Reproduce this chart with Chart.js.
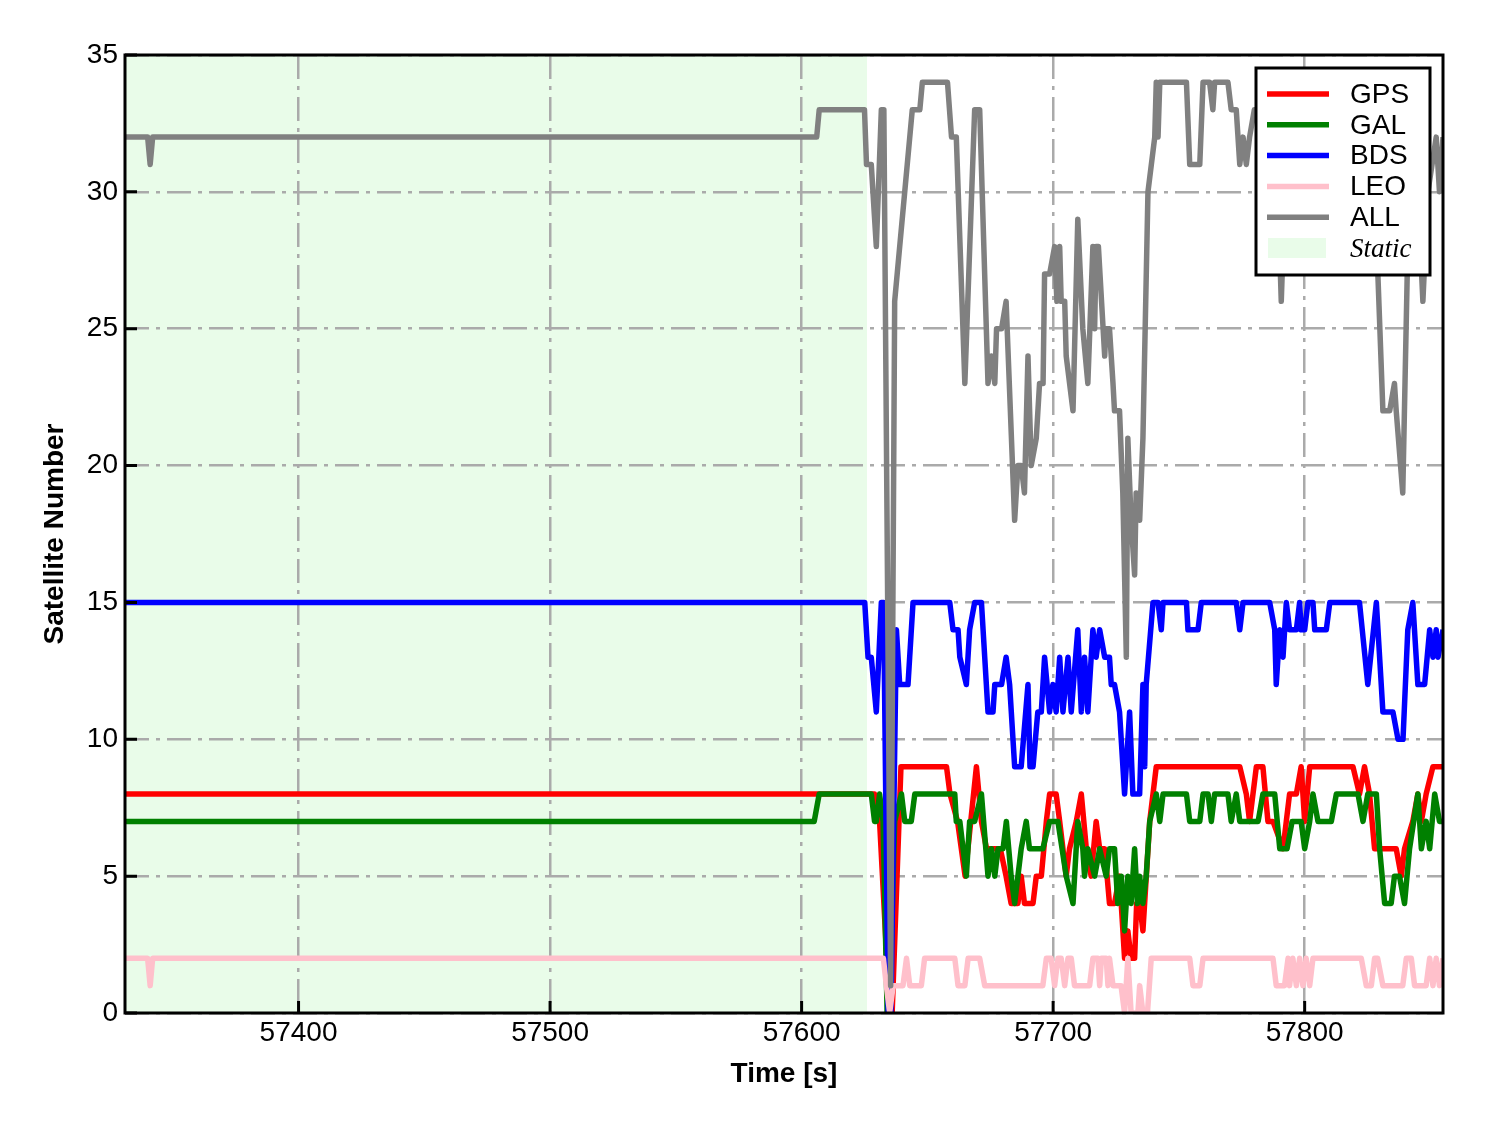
<!DOCTYPE html>
<html>
<head>
<meta charset="utf-8">
<script src="https://cdn.jsdelivr.net/npm/chart.js@4.4.1/dist/chart.umd.min.js"></script>
<style>
  html, body { margin: 0; padding: 0; background: #fff; }
  #wrap { width: 1488px; height: 1133px; position: relative; }
</style>
</head>
<body>
<div id="wrap"><canvas id="satChart"></canvas></div>
<script>
// axis ticks
const timeTicks = [57400, 57500, 57600, 57700, 57800];
const countTicks = [0, 5, 10, 15, 20, 25, 30, 35];
const timeMin = 57331;
const timeMax = 57855;
const staticEnd = 57626;

// [time (s), satellite count]
const gps = [
  [57331, 8], [57629, 8], [57631, 7], [57635, 0], [57636, 0], [57639.5, 9], [57657.6, 9], [57659, 8],
  [57662, 7], [57665, 5], [57669.5, 9], [57671.5, 7], [57673.5, 6], [57679, 6], [57681.3, 5],
  [57683.3, 4], [57686, 4], [57687.3, 5], [57688.6, 4], [57692, 4], [57693.3, 5], [57695.3, 5],
  [57697.3, 7], [57698.6, 8], [57701.2, 8], [57702.6, 7], [57705.2, 5], [57706.5, 6], [57709.2, 7],
  [57711.2, 8], [57713.2, 6], [57715.1, 5], [57717.1, 7], [57718.5, 6], [57720.5, 6], [57722.4, 4],
  [57724.4, 4], [57726.4, 5], [57728.4, 2], [57729.7, 3], [57731, 2], [57732.4, 2], [57733.2, 4],
  [57734.4, 4], [57735.7, 3], [57738.4, 7], [57741, 9], [57774.2, 9], [57776.8, 8], [57778.1, 7],
  [57780.8, 9], [57783.4, 9], [57785.4, 7], [57787.4, 7], [57791.4, 6], [57792.7, 7], [57794, 8],
  [57796.7, 8], [57798.6, 9], [57800, 7], [57802, 9], [57819.2, 9], [57821.8, 8], [57823.8, 9],
  [57825.8, 8], [57827.8, 6], [57836.4, 6], [57838.4, 5], [57839.7, 6], [57843, 7], [57845, 8],
  [57846.4, 7], [57848.3, 8], [57851, 9], [57855, 9]
];
const gal = [
  [57331, 7], [57605, 7], [57607, 8], [57627.7, 8], [57629, 7], [57629.7, 7], [57631, 8], [57632.4, 7],
  [57634, 0], [57635, 0], [57637, 7], [57639.7, 8], [57641, 7], [57643.6, 7], [57645, 8], [57660.9, 8],
  [57661.5, 7], [57662.9, 7], [57665.5, 5], [57666.8, 7], [57668.8, 7], [57671.5, 8], [57674.1, 5],
  [57675.5, 6], [57676.8, 5], [57678.1, 6], [57680.1, 6], [57681.4, 7], [57683.3, 5], [57684.7, 4],
  [57686, 5], [57687.3, 6], [57689.3, 7], [57690.6, 6], [57695.9, 6], [57698.6, 7], [57701.9, 7],
  [57705.2, 5], [57707.9, 4], [57709.8, 7], [57711.8, 6], [57712.5, 5], [57713.8, 6], [57716.5, 5],
  [57718.5, 6], [57721.1, 5], [57722.4, 6], [57724.4, 6], [57725.7, 4], [57727.1, 5], [57728.4, 3],
  [57729.7, 5], [57731, 4], [57732.4, 6], [57733.5, 4], [57734.4, 5], [57735.7, 4], [57737, 5],
  [57738.4, 7], [57741, 8], [57742.4, 7], [57743.7, 8], [57753, 8], [57754.3, 7], [57758.3, 7],
  [57759.6, 8], [57761.6, 8], [57762.9, 7], [57764.2, 8], [57769.5, 8], [57770.8, 7], [57772.8, 8],
  [57774.2, 7], [57781.5, 7], [57783.4, 8], [57788.1, 8], [57790.1, 6], [57793, 6], [57795, 7],
  [57798.6, 7], [57800, 6], [57802, 7], [57803.3, 8], [57805.3, 7], [57810.6, 7], [57812.6, 8],
  [57821.2, 8], [57823.2, 7], [57825.1, 8], [57828.5, 8], [57829.8, 6], [57831.8, 4], [57834.4, 4],
  [57835.7, 5], [57837.7, 5], [57839.7, 4], [57841.7, 6], [57845, 8], [57846.4, 6], [57848.3, 7],
  [57849.7, 6], [57851.7, 8], [57853.6, 7], [57855, 7]
];
const bds = [
  [57331, 15], [57625.1, 15], [57626.4, 13], [57627.7, 13], [57629.7, 11], [57631.7, 15], [57632.6, 15],
  [57634.4, 0], [57635.5, 0], [57637.7, 14], [57639, 12], [57642.3, 12], [57644.3, 15], [57658.9, 15],
  [57660.2, 14], [57662.2, 14], [57662.9, 13], [57665.5, 12], [57666.8, 14], [57668.8, 15],
  [57671.5, 15], [57674.1, 11], [57676.1, 11], [57676.8, 12], [57679.5, 12], [57681.3, 13],
  [57682.7, 12], [57684.7, 9], [57687.3, 9], [57690, 12], [57690.8, 9], [57692, 9], [57693.9, 11],
  [57695.3, 11], [57696.6, 13], [57698.6, 11], [57699.9, 12], [57701.2, 11], [57702.6, 13],
  [57703.9, 11], [57705.9, 13], [57707.2, 11], [57709.8, 14], [57711.2, 11], [57712.5, 13],
  [57713.8, 11], [57715.8, 14], [57717.1, 13], [57718.5, 14], [57720.5, 13], [57722.4, 13],
  [57723.1, 12], [57724.4, 12], [57726.4, 11], [57728.4, 8], [57730.4, 11], [57731.7, 8], [57734.4, 8],
  [57735.7, 12], [57736.4, 9], [57737, 12], [57739.7, 15], [57741.7, 15], [57743, 14], [57743.7, 15],
  [57753, 15], [57753.6, 14], [57757.6, 14], [57758.9, 15], [57772.8, 15], [57774.2, 14], [57775.5, 15],
  [57786.1, 15], [57788.1, 14], [57788.7, 12], [57790.1, 14], [57791.4, 13], [57792.7, 15],
  [57794, 14], [57796.7, 14], [57798, 15], [57798.6, 14], [57800, 14], [57801.3, 15], [57803.3, 15],
  [57804, 14], [57808.6, 14], [57810, 15], [57821.8, 15], [57825.1, 12], [57828.5, 15], [57831.1, 11],
  [57835.1, 11], [57837.1, 10], [57839.1, 10], [57841, 14], [57843, 15], [57845, 12], [57847.7, 12],
  [57849.7, 14], [57851, 13], [57852.3, 14], [57853, 13], [57855, 14]
];
const leo = [
  [57331, 2], [57340, 2], [57341, 1], [57342, 2], [57632.5, 2], [57633.7, 1], [57635, 0], [57636.4, 1],
  [57640.3, 1], [57641.7, 2], [57643, 1], [57647.6, 1], [57648.9, 2], [57660.9, 2], [57662.2, 1],
  [57664.9, 1], [57666.2, 2], [57670.8, 2], [57672.8, 1], [57695.9, 1], [57697.3, 2], [57699.2, 2],
  [57700.6, 1], [57701.9, 2], [57703.2, 2], [57704.6, 1], [57705.9, 2], [57707.2, 2], [57708.5, 1],
  [57714.5, 1], [57715.8, 2], [57717.8, 2], [57718.5, 1], [57719.2, 2], [57721.1, 2], [57721.8, 1],
  [57722.4, 2], [57723.8, 1], [57727, 1], [57728.4, 0], [57729.7, 2], [57731, 0], [57733.7, 0],
  [57734.4, 1], [57735.7, 0], [57737.5, 0], [57739, 2], [57754.3, 2], [57755.6, 1], [57758.3, 1],
  [57759.6, 2], [57787.4, 2], [57788.7, 1], [57792, 1], [57793.4, 2], [57794, 1], [57795.3, 2],
  [57796.7, 1], [57798, 2], [57799.3, 1], [57800.6, 2], [57802, 1], [57803.3, 2], [57822.5, 2],
  [57824.5, 1], [57826.5, 1], [57827.8, 2], [57829, 2], [57831.1, 1], [57839, 1], [57840.4, 2],
  [57842.4, 2], [57843.7, 1], [57848.3, 1], [57849.7, 2], [57851, 1], [57852.3, 2], [57853.6, 1],
  [57855, 2]
];
const all = [
  [57331, 32], [57340, 32], [57341, 31], [57342, 32], [57606, 32], [57607, 33], [57625, 33],
  [57625.8, 31], [57627.7, 31], [57629.7, 28], [57631.7, 33], [57632.7, 33], [57635.4, 1], [57637, 26],
  [57644, 33], [57647, 33], [57648, 34], [57658, 34], [57659.6, 32], [57661.5, 32], [57664.9, 23],
  [57668.8, 33], [57670.8, 33], [57674.1, 23], [57675.5, 24], [57676.8, 23], [57677.5, 25],
  [57679.5, 25], [57681.3, 26], [57684.7, 18], [57686, 20], [57687.3, 20], [57688.6, 19], [57690, 24],
  [57691.3, 20], [57693.3, 21], [57694.6, 23], [57696, 23], [57696.6, 27], [57698.6, 27],
  [57700.6, 28], [57701.5, 26], [57702.6, 28], [57703.2, 26], [57704.6, 26], [57705.2, 24],
  [57707.9, 22], [57709.8, 29], [57711.8, 25], [57713.8, 23], [57715.8, 28], [57716.5, 25],
  [57717.1, 28], [57718, 28], [57720.5, 24], [57721, 25], [57722.4, 25], [57723.8, 23], [57724.4, 22],
  [57726.4, 22], [57727.7, 19], [57729.1, 13], [57729.7, 21], [57731, 18], [57732.4, 16], [57733, 19],
  [57734.4, 18], [57735.7, 21], [57737.7, 30], [57740.4, 32], [57741, 34], [57741.7, 32],
  [57742.4, 34], [57753, 34], [57754.3, 31], [57758.3, 31], [57759.6, 34], [57762.2, 34],
  [57763.5, 33], [57764.2, 34], [57769.5, 34], [57770.8, 33], [57772.8, 33], [57774.2, 31],
  [57775.5, 32], [57776.8, 31], [57778.1, 32], [57780, 33], [57784, 32], [57789, 31], [57790.7, 26],
  [57792.5, 31], [57796, 33], [57801, 32], [57806, 34], [57811, 33], [57816, 31], [57821, 33],
  [57826, 32], [57829.1, 27], [57831.1, 22], [57833.8, 22], [57835.7, 23], [57836.4, 22], [57839, 19],
  [57841, 28], [57843, 31], [57845, 30], [57847, 26], [57849, 30], [57852.3, 32], [57853.6, 30],
  [57855, 32]
];

const shadeColor = "rgba(144, 238, 144, 0.2)";
const font = "'Liberation Sans', Arial, sans-serif";

const series = [
  { label: "GPS", data: gps, color: "#ff0000", order: 5 },
  { label: "GAL", data: gal, color: "#008000", order: 4 },
  { label: "BDS", data: bds, color: "#0000ff", order: 3 },
  { label: "LEO", data: leo, color: "#ffc0cb", order: 2 },
  { label: "ALL", data: all, color: "#808080", order: 1 }
];

const framePlugin = {
  id: "frame",
  beforeDraw(chart) {
    const { ctx, chartArea: a, scales } = chart;
    ctx.save();
    ctx.fillStyle = "#ffffff";
    ctx.fillRect(0, 0, chart.width, chart.height);
    const xEnd = scales.x.getPixelForValue(staticEnd);
    ctx.fillStyle = shadeColor;
    ctx.fillRect(a.left, a.top, xEnd - a.left, a.bottom - a.top);
    ctx.restore();
  },
  afterDatasetsDraw(chart) {
    const { ctx, chartArea: a, scales } = chart;
    ctx.save();
    ctx.strokeStyle = "#000";
    ctx.lineWidth = 3;
    ctx.strokeRect(a.left, a.top, a.right - a.left, a.bottom - a.top);
    // inward tick marks
    ctx.beginPath();
    timeTicks.forEach(v => {
      const x = scales.x.getPixelForValue(v);
      ctx.moveTo(x, a.bottom);
      ctx.lineTo(x, a.bottom - 12);
    });
    countTicks.forEach(v => {
      const y = scales.y.getPixelForValue(v);
      ctx.moveTo(a.left, y);
      ctx.lineTo(a.left + 12, y);
    });
    ctx.stroke();
    ctx.restore();
  },
  afterDraw(chart) {
    const { ctx, chartArea: a } = chart;
    const w = 174, h = 207;
    const left = a.right - 13 - w, top = a.top + 13;
    ctx.save();
    ctx.fillStyle = "#fff";
    ctx.fillRect(left, top, w, h);
    ctx.strokeStyle = "#000";
    ctx.lineWidth = 3;
    ctx.strokeRect(left, top, w, h);
    ctx.textBaseline = "middle";
    ctx.fillStyle = "#000";
    series.forEach((s, i) => {
      const y = top + 26 + i * 30.8;
      ctx.strokeStyle = s.color;
      ctx.lineWidth = 5.5;
      ctx.beginPath();
      ctx.moveTo(left + 11, y);
      ctx.lineTo(left + 73, y);
      ctx.stroke();
      ctx.font = "28px " + font;
      ctx.fillText(s.label, left + 94, y + 1);
    });
    const ys = top + 26 + 5 * 30.8;
    ctx.fillStyle = shadeColor;
    ctx.fillRect(left + 12, ys - 10, 58, 20);
    ctx.fillStyle = "#000";
    ctx.font = "italic 27px 'Liberation Serif', 'Times New Roman', serif";
    ctx.fillText("Static", left + 94, ys + 2);
    ctx.restore();
  }
};

new Chart(document.getElementById("satChart"), {
  type: "line",
  data: {
    datasets: series.map(s => ({
      label: s.label,
      data: s.data.map(p => ({ x: p[0], y: p[1] })),
      borderColor: s.color,
      backgroundColor: s.color,
      borderWidth: 5.5,
      borderJoinStyle: "round",
      pointRadius: 0,
      tension: 0,
      fill: false,
      order: s.order
    }))
  },
  options: {
    responsive: true,
    maintainAspectRatio: false,
    animation: false,
    layout: { padding: { left: 0, right: 45, top: 55, bottom: 0 } },
    plugins: {
      legend: { display: false },
      tooltip: { enabled: false }
    },
    scales: {
      x: {
        type: "linear",
        min: timeMin,
        max: timeMax,
        afterBuildTicks: scale => {
          scale.ticks = timeTicks.map(v => ({ value: v }));
        },
        afterFit: scale => { scale.height = 120; },
        grid: { color: "#aaaaaa", lineWidth: 2.5, drawTicks: false },
        border: { display: false, dash: [24, 7, 4, 7] },
        ticks: {
          color: "#000",
          padding: 3,
          maxRotation: 0,
          font: { family: font, size: 28 },
          callback: v => String(v)
        },
        title: {
          display: true,
          text: "Time [s]",
          color: "#000",
          padding: { top: 0, bottom: 42 },
          font: { family: font, size: 28, weight: "bold" }
        }
      },
      y: {
        min: 0,
        max: 35,
        afterBuildTicks: scale => {
          scale.ticks = countTicks.map(v => ({ value: v }));
        },
        afterFit: scale => { scale.width = 125; },
        grid: { color: "#aaaaaa", lineWidth: 2.5, drawTicks: false },
        border: { display: false, dash: [24, 7, 4, 7] },
        ticks: {
          color: "#000",
          padding: 7,
          font: { family: font, size: 28 },
          callback: v => String(v)
        },
        title: {
          display: true,
          text: "Satellite Number",
          color: "#000",
          padding: { top: 38, bottom: 0 },
          font: { family: font, size: 28, weight: "bold" }
        }
      }
    }
  },
  plugins: [framePlugin]
});
</script>
</body>
</html>
